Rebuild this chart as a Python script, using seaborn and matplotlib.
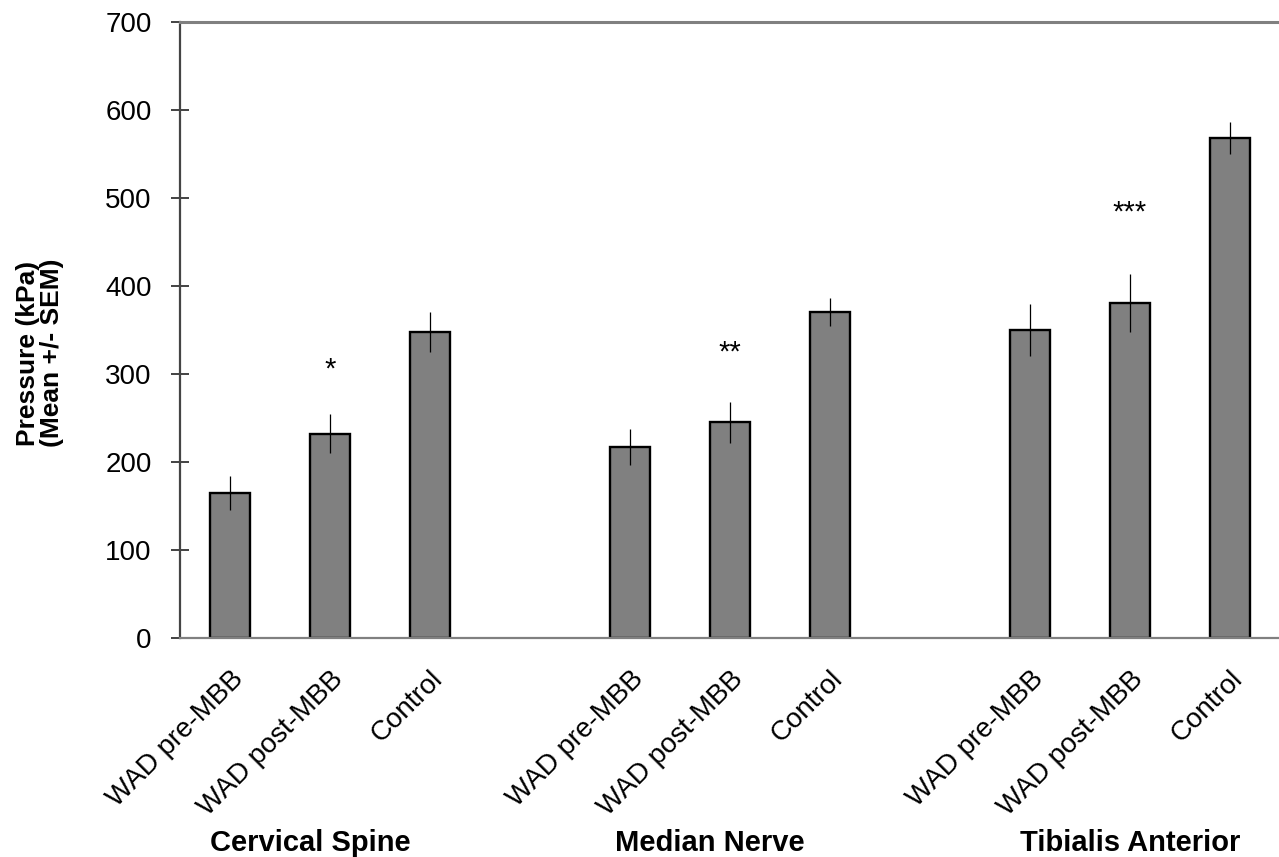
import numpy as np
import pandas as pd
import matplotlib
matplotlib.use("Agg")
import matplotlib.pyplot as plt
import seaborn as sns

# ---- data ----
groups = ["Cervical Spine", "Median Nerve", "Tibialis Anterior"]
conditions = ["WAD pre-MBB", "WAD post-MBB", "Control"]
means = [165, 232, 348,   217, 245, 370,   350, 381, 568]
sems = [19, 22, 23,   20, 23, 16,   29, 33, 18]
sig_marks = ["", "*", "",   "", "**", "",   "", "***", ""]
sig_heights = [0, 305, 0,   0, 324, 0,   0, 483, 0]
y_ticks = [0, 100, 200, 300, 400, 500, 600, 700]

# category keys with empty spacer slots between groups
keys = []
order = []
for gi, g in enumerate(groups):
    for c in conditions:
        k = f"{g}|{c}"
        keys.append(k)
        order.append(k)
    if gi < len(groups) - 1:
        order.append(f"gap{gi}")

df = pd.DataFrame({"key": keys, "mean": means, "sem": sems,
                   "cond": conditions * len(groups)})

sns.set_theme(style="white")
plt.rcParams["font.family"] = ["Liberation Sans", "DejaVu Sans"]
plt.rcParams["text.color"] = "black"
plt.rcParams["xtick.color"] = "black"
plt.rcParams["ytick.color"] = "black"

fig = plt.figure(figsize=(12.79, 8.57), dpi=100)
W, H = 1279, 857
ax = fig.add_axes([180 / W, (H - 638) / H, 1100 / W, 616 / H])

sns.barplot(data=df, x="key", y="mean", order=order, color="#808080",
            saturation=1, width=0.4, edgecolor="black", linewidth=1.7,
            errorbar=None, ax=ax)

pos = [order.index(k) for k in keys]
ax.errorbar(pos, df["mean"], yerr=df["sem"], fmt="none", ecolor="black",
            elinewidth=0.9, capsize=0, zorder=5)

for p, m, h in zip(pos, sig_marks, sig_heights):
    if m:
        ax.text(p, h, m, ha="center", va="center", fontsize=21, color="black")

ax.set_xlim(-0.5, 10.5)
ax.set_ylim(0, 700)
ax.set_yticks(y_ticks)
ax.set_yticklabels([str(t) for t in y_ticks], fontsize=20)
ax.set_xticks(pos)
ax.set_xticklabels(df["cond"], rotation=45, ha="right",
                   rotation_mode="anchor", fontsize=20)
ax.tick_params(axis="x", length=0, pad=20)
ax.tick_params(axis="y", direction="inout", length=13, width=1.2,
               color="#222222", pad=14, left=True)
ax.set_xlabel("")
ax.set_ylabel("")

for s in ["left", "top", "bottom", "right"]:
    ax.spines[s].set_visible(True)
ax.spines["right"].set_visible(False)
ax.spines["left"].set_color("#444444")
ax.spines["left"].set_linewidth(1.6)
ax.spines["top"].set_color("#808080")
ax.spines["top"].set_linewidth(2.2)
ax.spines["bottom"].set_color("#808080")
ax.spines["bottom"].set_linewidth(1.6)

# group labels
group_x = [0.8, 4.8, 9.0]
for gx, g in zip(group_x, groups):
    ax.text(gx, -0.333, g, transform=ax.get_xaxis_transform(), ha="center",
            va="center", fontsize=21, fontweight="bold", color="black")

fig.text(40 / W, 1 - 353 / H, "Pressure (kPa)\n(Mean +/- SEM)", rotation=90,
         ha="center", va="center", fontsize=19, fontweight="bold",
         linespacing=1.0, color="black")

fig.savefig("out.png", dpi=100)
